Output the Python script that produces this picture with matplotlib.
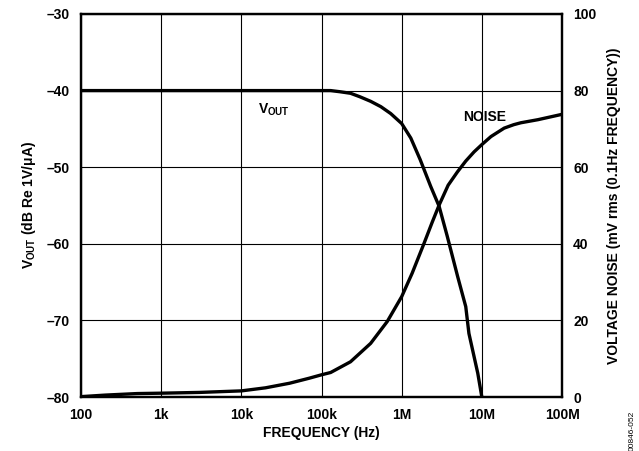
import matplotlib
matplotlib.use("Agg")
import matplotlib.pyplot as plt

plt.rcParams['font.family'] = ['Liberation Sans', 'DejaVu Sans']
plt.rcParams['font.weight'] = 'bold'
plt.rcParams['axes.labelweight'] = 'bold'
plt.rcParams['mathtext.fontset'] = 'custom'
plt.rcParams['mathtext.rm'] = 'Liberation Sans:bold'
plt.rcParams['mathtext.bf'] = 'Liberation Sans:bold'

# VOUT (dB Re 1V/uA) vs frequency
vout_freq = [100, 1e3, 1e4, 1e5, 1.3e5, 1.7e5, 2.3e5, 3e5, 4.1e5, 5.5e5, 7.3e5, 1e6,
             1.3e6, 1.7e6, 2.3e6, 2.93e6, 3.7e6, 5e6, 6.3e6, 6.9e6, 8.9e6, 1e7]
vout_db = [-40, -40, -40, -40, -40.0, -40.15, -40.35, -40.8, -41.4, -42.1, -43.0, -44.3,
           -46.2, -49.0, -52.5, -55.1, -59.0, -64.3, -68.2, -71.7, -76.9, -80.0]

# voltage noise (mV rms) vs frequency
noise_freq = [100, 200, 500, 1e3, 3e3, 1e4, 2e4, 4e4, 7e4, 1e5, 1.3e5, 2.3e5, 4.1e5,
              6.6e5, 1e6, 1.35e6, 1.9e6, 2.4e6, 2.93e6, 3.8e6, 4.97e6, 6.3e6, 8e6,
              1e7, 1.3e7, 1.9e7, 2.5e7, 3.07e7, 5e7, 1e8]
noise_mv = [0.1, 0.5, 0.9, 1.0, 1.2, 1.6, 2.4, 3.6, 4.9, 5.8, 6.4, 9.2, 14.0,
            19.7, 26.2, 32.3, 40.1, 45.6, 50.1, 55.3, 58.8, 61.6, 64.0,
            65.9, 68.0, 70.2, 71.1, 71.6, 72.4, 73.8]

xticks = [1e2, 1e3, 1e4, 1e5, 1e6, 1e7, 1e8]
xticklabels = ['100', '1k', '10k', '100k', '1M', '10M', '100M']
left_ticks = [-30, -40, -50, -60, -70, -80]
right_ticks = [0, 20, 40, 60, 80, 100]

fig = plt.figure(figsize=(6.39, 4.51), dpi=100)
ax = fig.add_axes([0.1268, 0.1197, 0.7527, 0.8493])
ax2 = ax.twinx()

ax.set_xscale('log')
ax.set_xlim(1e2, 1e8)
ax.set_ylim(-80, -30)
ax2.set_ylim(0, 100)

ax.plot(vout_freq, vout_db, color='black', lw=2.4, solid_joinstyle='round')
ax2.plot(noise_freq, noise_mv, color='black', lw=2.4, solid_joinstyle='round')

ax.set_xticks(xticks)
ax.set_xticklabels(xticklabels)
ax.minorticks_off()
ax.set_yticks(left_ticks)
ax.set_yticklabels([str(t).replace('-', '\u2013') for t in left_ticks])
ax2.set_yticks(right_ticks)

ax.grid(True, color='black', lw=0.8)
ax.tick_params(length=0, labelsize=10)
ax.tick_params(axis='x', pad=8)
ax.tick_params(axis='y', pad=8)
ax2.tick_params(length=0, labelsize=10, pad=8)

for a in (ax, ax2):
    for s in a.spines.values():
        s.set_linewidth(1.6)

ax.set_xlabel('FREQUENCY (Hz)', fontsize=10, fontweight='bold', labelpad=3)
ax.set_ylabel('V$_{\\mathrm{OUT}}$ (dB Re 1V/\u03bcA)', fontsize=10,
              fontweight='bold', labelpad=6)
ax2.set_ylabel('VOLTAGE NOISE (mV rms (0.1Hz FREQUENCY))', fontsize=10,
               fontweight='bold', labelpad=8)

ax.text(1.63e4, -42.5, 'V$_{\\mathrm{OUT}}$', fontsize=10, fontweight='bold',
        ha='left', va='center')
ax.text(1.09e7, -43.5, 'NOISE', fontsize=10, fontweight='bold',
        ha='center', va='center')

fig.text(0.989, 0.045, '00846-052', rotation=90, fontsize=6, fontweight='normal',
         ha='center', va='center')

fig.savefig('out.png', dpi=100)
